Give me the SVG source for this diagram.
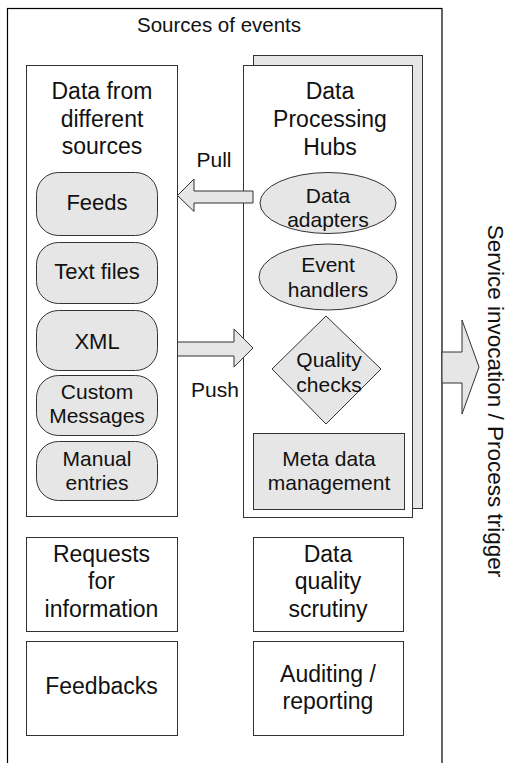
<svg xmlns="http://www.w3.org/2000/svg" width="510" height="763" viewBox="0 0 510 763">
  <style>
    text { font-family: "Liberation Sans", Arial, sans-serif; fill: #111; text-anchor: middle; }
    .hdr { font-size: 23px; }
    .itm { font-size: 22px; }
    .sm { font-size: 21px; }
    .box { fill: #fff; stroke: #333; stroke-width: 1; }
    .gray { fill: #e6e6e6; stroke: #333; stroke-width: 1; }
    .frame { fill: #fff; stroke: #000; stroke-width: 1.2; }
  </style>

  <!-- outer frame -->
  <g id="sources-of-events">
    <rect class="frame" x="7.5" y="8.5" width="434.5" height="770"/>
    <text x="219" y="32" style="font-size:20.5px">Sources of events</text>
  </g>

  <!-- left column: inputs -->
  <g id="data-sources">
    <rect class="box" x="26.5" y="65.5" width="151" height="451"/>
    <text class="hdr" x="102" y="99">Data from</text>
    <text class="hdr" x="102" y="127">different</text>
    <text class="hdr" x="102" y="154">sources</text>
  </g>
  <g id="feeds">
    <rect class="gray" x="36.5" y="172.5" width="121" height="63" rx="22"/>
    <text class="itm" x="97" y="210">Feeds</text>
  </g>
  <g id="text-files">
    <rect class="gray" x="36.5" y="242.5" width="121" height="61" rx="22"/>
    <text class="itm" x="97" y="279">Text files</text>
  </g>
  <g id="xml">
    <rect class="gray" x="36.5" y="310.5" width="121" height="60" rx="22"/>
    <text class="itm" x="97" y="349">XML</text>
  </g>
  <g id="custom-messages">
    <rect class="gray" x="36.5" y="375.5" width="121" height="60" rx="22"/>
    <text class="sm" x="97" y="398.5">Custom</text>
    <text class="sm" x="97" y="422.5">Messages</text>
  </g>
  <g id="manual-entries">
    <rect class="gray" x="36.5" y="441.5" width="121" height="59" rx="22"/>
    <text class="sm" x="97" y="465.5">Manual</text>
    <text class="sm" x="97" y="489.5">entries</text>
  </g>

  <!-- right column: processing hubs (stacked) -->
  <g id="processing-hubs">
    <rect class="gray" x="253.5" y="55.5" width="169" height="453"/>
    <rect class="box" x="243.5" y="65.5" width="169" height="452"/>
    <text class="hdr" x="330" y="99">Data</text>
    <text class="hdr" x="330" y="127">Processing</text>
    <text class="hdr" x="330" y="155">Hubs</text>
  </g>
  <g id="data-adapters">
    <ellipse class="gray" cx="328" cy="203" rx="68" ry="30.5"/>
    <text class="sm" x="328" y="202.5">Data</text>
    <text class="sm" x="328" y="227">adapters</text>
  </g>
  <g id="event-handlers">
    <ellipse class="gray" cx="328" cy="277" rx="69" ry="33"/>
    <text class="sm" x="328" y="271.5">Event</text>
    <text class="sm" x="328" y="296.5">handlers</text>
  </g>
  <g id="quality-checks">
    <polygon class="gray" points="326,316 381,369 326,424 272,369"/>
    <text class="sm" x="329" y="366.5">Quality</text>
    <text class="sm" x="329" y="391.5">checks</text>
  </g>
  <g id="meta-data">
    <rect class="gray" x="253.5" y="433.5" width="151" height="76"/>
    <text class="sm" x="329" y="465.5">Meta data</text>
    <text class="sm" x="329" y="489.5">management</text>
  </g>

  <!-- lower boxes -->
  <g id="requests">
    <rect class="box" x="26.5" y="537.5" width="151" height="94"/>
    <text class="hdr" x="101.5" y="561.5">Requests</text>
    <text class="hdr" x="101.5" y="589">for</text>
    <text class="hdr" x="101.5" y="616.5">information</text>
  </g>
  <g id="feedbacks">
    <rect class="box" x="26.5" y="641.5" width="151" height="94"/>
    <text class="hdr" x="101.5" y="693.5">Feedbacks</text>
  </g>
  <g id="dq-scrutiny">
    <rect class="box" x="253.5" y="537.5" width="150" height="94"/>
    <text class="hdr" x="328" y="561.5">Data</text>
    <text class="hdr" x="328" y="589">quality</text>
    <text class="hdr" x="328" y="616.5">scrutiny</text>
  </g>
  <g id="auditing">
    <rect class="box" x="253.5" y="641.5" width="150" height="94"/>
    <text class="hdr" x="328" y="681.5">Auditing /</text>
    <text class="hdr" x="328" y="709">reporting</text>
  </g>

  <!-- block arrows -->
  <g id="connectors">
    <polygon id="pull" class="gray" points="253,191 194,191 194,179 177.5,195.5 194,211.5 194,203 253,203"/>
    <text class="sm" x="214" y="166.5">Pull</text>
    <polygon id="push" class="gray" points="177.5,342 234,342 234,329 253,348 234,367 234,356 177.5,356"/>
    <text class="sm" x="215" y="396.5">Push</text>
    <polygon id="trigger" class="gray" points="442,352 462,352 462,320 479,367 462,414 462,383 442,383"/>
    <text transform="translate(488,401) rotate(90)" style="font-size:22.5px">Service invocation / Process trigger</text>
  </g>
</svg>
